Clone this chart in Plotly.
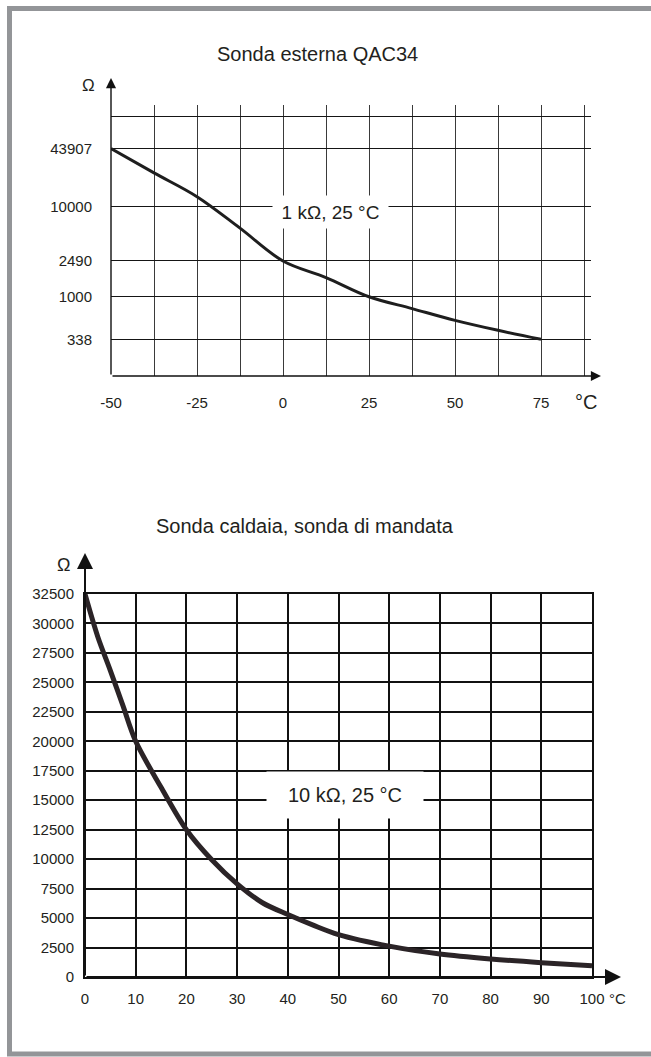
import plotly.graph_objects as go

# ---------------- data ----------------
top_title = "Sonda esterna QAC34"
top_temp = [-50, -37.5, -25, -12.5, 0, 12.5, 25, 37.5, 50, 62.5, 75]
top_ohm = [43907, 23550, 12840, 5750, 2490, 1632, 1000, 740, 548, 425, 338]
top_xtick_vals = [-50, -37.5, -25, -12.5, 0, 12.5, 25, 37.5, 50, 62.5, 75, 87.5]
top_xtick_text = ["-50", "", "-25", "", "0", "", "25", "", "50", "", "75", ""]
top_ytick_vals = [338, 1000, 2490, 10000, 43907, 100000]
top_ytick_text = ["338", "1000", "2490", "10000", "43907", ""]
top_note = "1 kΩ, 25 °C"

bot_title = "Sonda caldaia, sonda di mandata"
bot_temp = [0, 2.5, 5, 7.5, 10, 15, 20, 25, 30, 35, 40, 45, 50, 60, 70, 80, 90, 100]
bot_ohm = [32500, 28900, 26000, 23000, 20000, 16100, 12500, 9950, 7900, 6300,
           5300, 4400, 3600, 2620, 1950, 1530, 1215, 960]
bot_xtick_vals = [0, 10, 20, 30, 40, 50, 60, 70, 80, 90, 100]
bot_ytick_vals = [0, 2500, 5000, 7500, 10000, 12500, 15000, 17500, 20000,
                  22500, 25000, 27500, 30000, 32500]
bot_note = "10 kΩ, 25 °C"

# ---------------- layout helpers ----------------
W, H = 651, 1057
def px(x):
    return x / W
def py(y):
    return 1 - y / H

FONT = "Liberation Sans, Arial, sans-serif"
TXT = "#231f20"

fig = go.Figure()

fig.add_trace(go.Scatter(
    x=top_temp, y=top_ohm, mode="lines", xaxis="x", yaxis="y",
    line=dict(color="#1e1e1e", width=3, shape="spline", smoothing=1.0),
    hoverinfo="skip"))

fig.add_trace(go.Scatter(
    x=bot_temp, y=bot_ohm, mode="lines", xaxis="x2", yaxis="y2",
    line=dict(color="#2b2427", width=5, shape="spline", smoothing=0.9),
    hoverinfo="skip"))

tickfont = dict(family=FONT, size=15, color=TXT)

fig.update_layout(
    width=W, height=H,
    margin=dict(l=0, r=0, t=0, b=0, autoexpand=False),
    paper_bgcolor="white", plot_bgcolor="white",
    showlegend=False,
    xaxis=dict(domain=[px(111), px(591)], range=[-50, -50 + (591 - 111) / 3.44],
               anchor="y", tickmode="array", tickvals=top_xtick_vals,
               ticktext=top_xtick_text, showgrid=True, gridcolor="#3a3a3a",
               gridwidth=1.4, zeroline=False, showline=False, ticks="",
               tickfont=tickfont, ticklabelstandoff=16, automargin=False,
               fixedrange=True),
    yaxis=dict(domain=[py(376), py(105)], type="log", range=[2.1226, 5.1237],
               anchor="x", tickmode="array", tickvals=top_ytick_vals,
               ticktext=top_ytick_text, showgrid=True, gridcolor="#151515",
               gridwidth=1.2, zeroline=False, showline=False, ticks="",
               tickfont=tickfont, ticklabelstandoff=18, automargin=False,
               fixedrange=True),
    xaxis2=dict(domain=[px(85), px(592)], range=[0, 100], anchor="y2",
                tickmode="array", tickvals=bot_xtick_vals, showgrid=True,
                gridcolor="#111111", gridwidth=2, zeroline=False,
                showline=True, mirror=True, linecolor="#111111", linewidth=2,
                ticks="", tickfont=tickfont, ticklabelstandoff=7,
                automargin=False, fixedrange=True),
    yaxis2=dict(domain=[py(977), py(594)], range=[0, 32500], anchor="x2",
                tickmode="array", tickvals=bot_ytick_vals, tickformat="d",
                showgrid=True, gridcolor="#111111", gridwidth=2, zeroline=False,
                showline=True, mirror=True, linecolor="#111111", linewidth=2,
                ticks="", tickfont=tickfont, ticklabelstandoff=6,
                automargin=False, fixedrange=True),
)

ann = []
def text(t, x, y, size, **kw):
    ann.append(dict(text=t, x=px(x), y=py(y), xref="paper", yref="paper",
                    showarrow=False, xanchor="center", yanchor="middle",
                    font=dict(family=FONT, size=size, color=TXT), **kw))

def arrow(hx, hy, tx, ty, width, size):
    ann.append(dict(text="", x=px(hx), y=py(hy), xref="paper", yref="paper",
                    ax=tx - hx, ay=ty - hy, axref="pixel", ayref="pixel",
                    showarrow=True, arrowhead=2, arrowsize=size,
                    arrowwidth=width, arrowcolor="#111111", standoff=0))

# titles
text(top_title, 317, 54, 20)
text(bot_title, 305, 526, 20)
# unit labels
text("Ω", 88, 85, 17)
text("°C", 586, 402, 20)
text("Ω", 63, 565, 18)
text("°C", 617, 998, 15)
# axis arrows
arrow(111, 78, 111, 376, 1.4, 1.45)
arrow(601, 376, 111, 376, 1.4, 1.45)
arrow(85, 553, 85, 977, 2, 1.6)
arrow(621, 977, 85, 977, 2, 1.6)
# notes with white boxes
ann.append(dict(text=top_note, x=px(330), y=py(212), xref="paper", yref="paper",
                showarrow=False, xanchor="center", yanchor="middle",
                width=113, height=30, bgcolor="white",
                font=dict(family=FONT, size=19, color=TXT)))
ann.append(dict(text=bot_note, x=px(345), y=py(795), xref="paper", yref="paper",
                showarrow=False, xanchor="center", yanchor="middle",
                width=154, height=44, bgcolor="white",
                font=dict(family=FONT, size=20, color=TXT)))

fig.update_layout(annotations=ann)

# outer grey frame
fig.add_shape(type="rect", xref="paper", yref="paper",
              x0=px(9.5), x1=px(670), y0=py(1054), y1=py(8.5),
              line=dict(color="#939598", width=5), fillcolor="rgba(0,0,0,0)",
              layer="above")

fig.write_html("out.html", config={"displayModeBar": False},
               post_script="document.body.style.margin='0';document.body.style.overflow='hidden';")
